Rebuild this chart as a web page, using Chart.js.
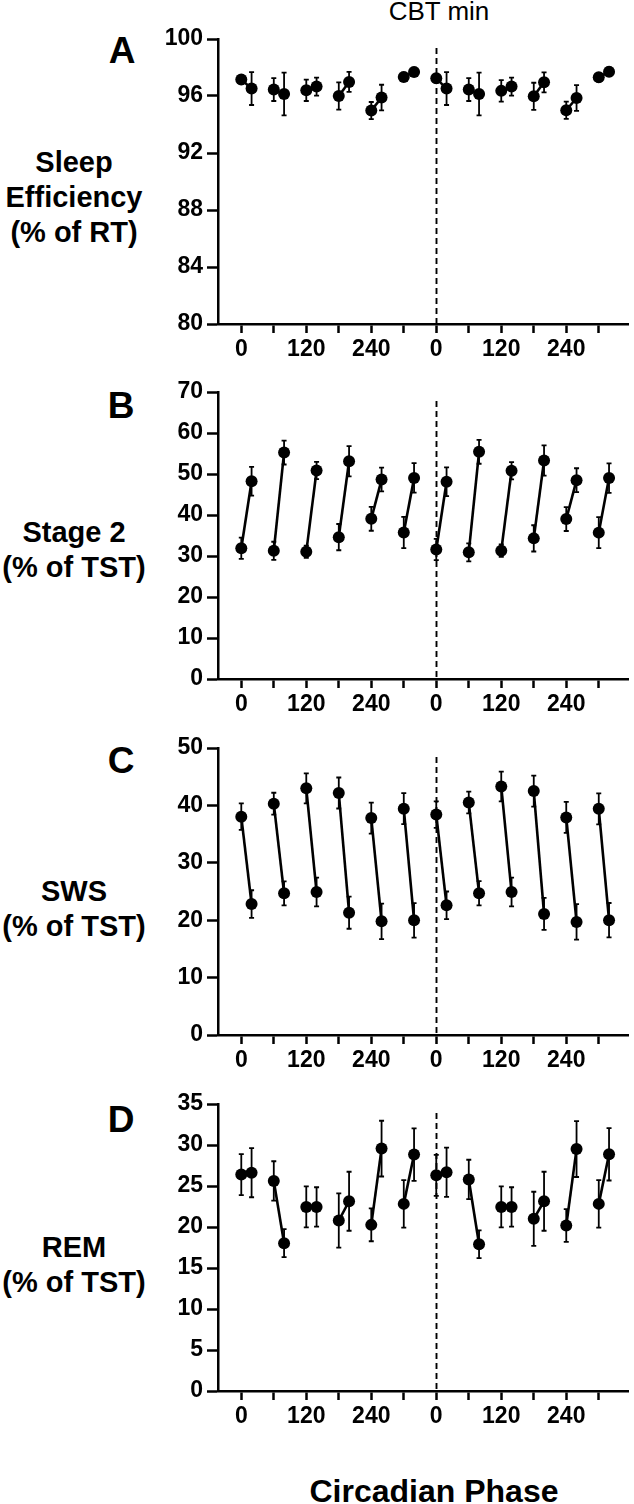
<!DOCTYPE html>
<html>
<head>
<meta charset="utf-8">
<script src="https://cdn.jsdelivr.net/npm/chart.js@4.4.1/dist/chart.umd.min.js"></script>
<style>
  html, body { margin:0; padding:0; background:#fff; width:634px; height:1504px; overflow:hidden; }
  body { position:relative; font-family:"Liberation Sans", Arial, sans-serif; color:#000; }
  canvas { position:absolute; left:0; }
  .lbl { position:absolute; transform:translateX(-50%); white-space:nowrap; text-align:center; }
  .ytitle { font-weight:bold; font-size:29px; line-height:35px; }
  .letter { font-weight:bold; font-size:37px; line-height:37px; }
</style>
</head>
<body>
<div class="lbl" style="left:439px; top:-2px; font-size:26px; line-height:26px;">CBT min</div>
<div class="lbl letter" style="left:122px; top:32px;">A</div>
<div class="lbl letter" style="left:121px; top:387px;">B</div>
<div class="lbl letter" style="left:121px; top:742px;">C</div>
<div class="lbl letter" style="left:121px; top:1101px;">D</div>
<div class="lbl ytitle" style="left:74px; top:145px;">Sleep<br>Efficiency<br>(% of RT)</div>
<div class="lbl ytitle" style="left:74px; top:515px;">Stage 2<br>(% of TST)</div>
<div class="lbl ytitle" style="left:74px; top:874px;">SWS<br>(% of TST)</div>
<div class="lbl ytitle" style="left:74px; top:1230px;">REM<br>(% of TST)</div>
<div class="lbl" style="left:434px; top:1475px; font-weight:bold; font-size:32px; line-height:32px;">Circadian Phase</div>

<canvas id="cA" width="634" height="350" style="top:19px"></canvas>
<canvas id="cB" width="634" height="352" style="top:372px"></canvas>
<canvas id="cC" width="634" height="352" style="top:728px"></canvas>
<canvas id="cD" width="634" height="352" style="top:1084px"></canvas>

<script>
// ---- data ----
const phase = [0,19, 60,79, 120,139, 180,199, 240,259, 300,319, 360,379, 420,439, 480,499, 540,559, 600,619, 660,679];
const xTickValues = [0,60,120,180,240,300,360,420,480,540,600,660];
const xTickLabels = ["0","","120","","240","","0","","120","","240",""];
const cbtMin = 360;

const sleepEff    = [97.15,96.52,96.45,96.14,96.40,96.66,96.00,96.99,94.98,95.89,97.34,97.69, 97.24,96.52,96.45,96.14,96.36,96.66,95.98,96.96,95.00,95.86,97.31,97.71];
const sleepEffErr = [0.3,1.15,0.8,1.5,0.75,0.63,0.95,0.7,0.6,0.9,0.3,0.3, 0.3,1.15,0.8,1.5,0.75,0.63,0.95,0.7,0.6,0.9,0.3,0.3];
const sleepEffTicks = [80,84,88,92,96,100];

const stage2    = [31.9,48.24,31.27,55.22,31.02,50.84,34.6,53.1,39.06,48.64,35.73,49.05, 31.6,48.1,30.9,55.4,31.3,50.8,34.3,53.3,39.0,48.5,35.7,49.0];
const stage2Err = [2.6,3.5,2.2,2.9,1.5,2.1,3.2,3.7,2.9,2.9,3.8,3.6, 2.6,3.5,2.2,2.9,1.5,2.1,3.2,3.7,2.9,2.9,3.8,3.6];
const stage2Ticks = [0,10,20,30,40,50,60,70];

const sws    = [38.04,22.82,40.3,24.68,42.97,24.9,42.16,21.31,37.8,19.8,39.43,19.98, 38.4,22.6,40.5,24.7,43.3,24.9,42.5,21.1,37.9,19.7,39.4,20.0];
const swsErr = [2.3,2.4,1.9,2.1,2.6,2.5,2.7,2.8,2.7,3.1,2.7,3.0, 2.3,2.4,1.9,2.1,2.6,2.5,2.7,2.8,2.7,3.1,2.7,3.0];
const swsTicks = [0,10,20,30,40,50];

const rem    = [26.39,26.63,25.62,18.03,22.45,22.45,20.79,23.14,20.26,29.56,22.82,28.83, 26.3,26.67,25.8,17.9,22.45,22.45,21.0,23.14,20.18,29.5,22.82,28.87];
const remErr = [2.5,3.0,2.4,1.7,2.5,2.4,3.3,3.6,2.0,3.4,2.9,3.2, 2.5,3.0,2.4,1.7,2.5,2.4,3.3,3.6,2.0,3.4,2.9,3.2];
const remTicks = [0,5,10,15,20,25,30,35];

// ---- drawing ----
const FONT = '"Liberation Sans", Arial, sans-serif';
Chart.defaults.color = '#000';
Chart.defaults.font.family = FONT;

const errPlugin = {
  id: 'errbars',
  beforeDatasetsDraw(chart, args, opts) {
    const {ctx, scales:{x, y}, chartArea} = chart;
    ctx.save();
    // dashed CBT-min line
    const xd = Math.round(x.getPixelForValue(cbtMin)) + 0.5;
    ctx.strokeStyle = '#000';
    ctx.lineWidth = 1.9;
    ctx.setLineDash([6,4]);
    ctx.beginPath();
    ctx.moveTo(xd, chartArea.top + 9);
    ctx.lineTo(xd, chartArea.bottom);
    ctx.stroke();
    ctx.setLineDash([]);
    // error bars
    ctx.lineWidth = 1.8;
    const cap = 2.5;
    opts.vals.forEach((v, i) => {
      const px = x.getPixelForValue(phase[i]);
      const top = y.getPixelForValue(v + opts.errs[i]);
      const bot = y.getPixelForValue(v - opts.errs[i]);
      ctx.beginPath();
      ctx.moveTo(px, top); ctx.lineTo(px, bot);
      ctx.moveTo(px - cap, top); ctx.lineTo(px + cap, top);
      ctx.moveTo(px - cap, bot); ctx.lineTo(px + cap, bot);
      ctx.stroke();
    });
    ctx.restore();
  }
};

function makeChart(id, vals, errs, yTicks) {
  const datasets = [];
  for (let i = 0; i < vals.length; i += 2) {
    datasets.push({
      data: [{x: phase[i], y: vals[i]}, {x: phase[i+1], y: vals[i+1]}],
      showLine: true,
      borderColor: '#000',
      borderWidth: 2.6,
      pointRadius: 6,
      pointBackgroundColor: '#000',
      pointBorderColor: '#000',
      pointBorderWidth: 0
    });
  }
  const tickFont = {size: 23, weight: 'bold', family: FONT};
  new Chart(document.getElementById(id), {
    type: 'scatter',
    data: {datasets},
    plugins: [errPlugin],
    options: {
      responsive: false,
      animation: false,
      events: [],
      layout: {padding: {top: 20, right: 0, left: 0, bottom: 0}},
      plugins: {legend: {display: false}, tooltip: {enabled: false}, errbars: {vals, errs}},
      scales: {
        x: {
          type: 'linear', min: -43, max: 714,
          afterFit(s) { s.height = 45; },
          afterBuildTicks(s) { s.ticks = xTickValues.map(v => ({value: v})); },
          ticks: {
            autoSkip: false, maxRotation: 0, padding: 3, font: tickFont, color: '#000',
            callback: (v, i) => xTickLabels[i]
          },
          grid: {drawOnChartArea: false, drawTicks: true, tickLength: 9, tickWidth: 2.5, tickColor: '#000'},
          border: {display: true, color: '#000', width: 2.5}
        },
        y: {
          type: 'linear', min: yTicks[0], max: yTicks[yTicks.length-1],
          afterFit(s) { s.width = 218; },
          afterBuildTicks(s) { s.ticks = yTicks.map(v => ({value: v})); },
          ticks: {padding: 4, font: tickFont, color: '#000'},
          grid: {drawOnChartArea: false, drawTicks: true, tickLength: 11, tickWidth: 2.5, tickColor: '#000'},
          border: {display: true, color: '#000', width: 2.5}
        }
      }
    }
  });
}

makeChart('cA', sleepEff, sleepEffErr, sleepEffTicks);
makeChart('cB', stage2, stage2Err, stage2Ticks);
makeChart('cC', sws, swsErr, swsTicks);
makeChart('cD', rem, remErr, remTicks);
</script>
</body>
</html>
